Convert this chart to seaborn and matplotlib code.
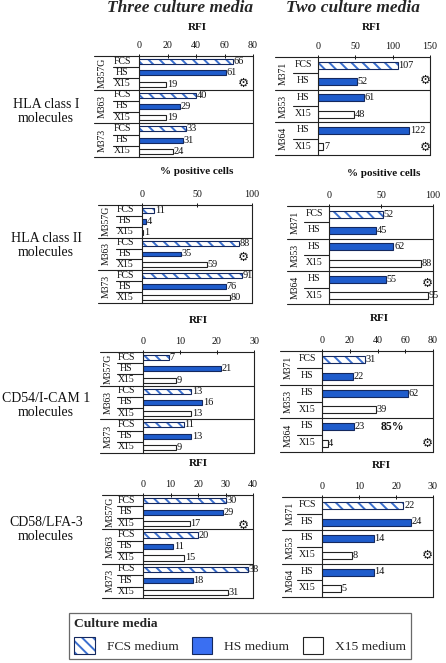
import numpy as np
import pandas as pd
import matplotlib
matplotlib.use("Agg")
import matplotlib.pyplot as plt
import seaborn as sns
from matplotlib.colors import to_rgba
from matplotlib.patches import Patch

sns.set_theme(style="white")
plt.rcParams["font.family"] = ["Liberation Serif", "DejaVu Serif"]
plt.rcParams["hatch.linewidth"] = 1.4

# ---------------- data ----------------
media_order = ["FCS", "HS", "X15"]
lines_three = ["M357G", "M363", "M373"]
media_three = [["FCS", "HS", "X15"], ["FCS", "HS", "X15"], ["FCS", "HS", "X15"]]
lines_two = ["M371", "M353", "M364"]
media_two = [["FCS", "HS"], ["HS", "X15"], ["HS", "X15"]]

hla1_three = [66, 61, 19, 40, 29, 19, 33, 31, 24]
hla1_two = [107, 52, 61, 48, 122, 7]
hla2_three = [11, 4, 1, 88, 35, 59, 91, 76, 80]
hla2_two = [52, 45, 62, 88, 55, 95]
icam_three = [7, 21, 9, 13, 16, 13, 11, 13, 9]
icam_two = [31, 22, 62, 39, 23, 4]
lfa_three = [30, 29, 17, 20, 11, 15, 38, 18, 31]
lfa_two = [22, 24, 14, 8, 14, 5]

row_labels = ["HLA class I\nmolecules", "HLA class II\nmolecules",
              "CD54/I-CAM 1\nmolecules", "CD58/LFA-3\nmolecules"]
col_titles = ["Three culture media", "Two culture media"]
legend_labels = ["FCS medium", "HS medium", "X15 medium"]

W, H = 446, 663
fig = plt.figure(figsize=(W / 100, H / 100), dpi=100)
fig.patch.set_facecolor("white")

BLUE = "#1f5ccc"
NAVY = "#14285e"
HATCH_BLUE = "#3a6fd0"
palette = {"FCS": "white", "HS": BLUE, "X15": "white"}


def fx(px):
    return px / W


def fy(py):
    return 1 - py / H


def make_df(lines, media, values):
    rows, meds, vals = [], [], []
    k = 0
    for ln, ms in zip(lines, media):
        for m in ms:
            rows.append(f"{ln}|{m}")
            meds.append(m)
            vals.append(values[k])
            k += 1
    return pd.DataFrame({"row": rows, "medium": meds, "value": vals})


# panel geometry: x0, x1, top, bottom, box_left (pixels), xmax, ticks, title, title pos
panels = [
    (hla1_three, True, 139, 253, 56, 157, 94, 80, [0, 20, 40, 60, 80], "RFI", (197, 28)),
    (hla1_two, False, 318, 430, 57, 155, 275, 150, [0, 50, 100, 150], "RFI", (371, 28)),
    (hla2_three, True, 142, 252, 205, 303, 98, 100, [0, 50, 100], "% positive cells", (197, 171)),
    (hla2_two, False, 329, 433, 206, 304, 287, 100, [0, 50, 100], "% positive cells", (384, 173)),
    (icam_three, True, 143, 254, 352, 453, 100, 30, [0, 10, 20, 30], "RFI", (198, 320)),
    (icam_two, False, 322, 433, 351, 452, 280, 80, [0, 20, 40, 60, 80], "RFI", (379, 318)),
    (lfa_three, True, 143, 253, 495, 598, 102, 40, [0, 10, 20, 30, 40], "RFI", (198, 463)),
    (lfa_two, False, 322, 433, 497, 597, 282, 30, [0, 10, 20, 30], "RFI", (381, 465)),
]

for vals, three, x0, x1, top, bot, left, xmax, ticks, ttl, tpos in panels:
    lines = lines_three if three else lines_two
    media = media_three if three else media_two
    df = make_df(lines, media, vals)
    n = len(df)
    ax = fig.add_axes([fx(x0), fy(bot), (x1 - x0) / W, (bot - top) / H])
    sns.barplot(data=df, x="value", y="row", hue="medium", hue_order=media_order,
                order=list(df["row"]), palette=palette, dodge=False,
                width=0.45 if three else 0.42, saturation=1, legend=False,
                edgecolor=NAVY, linewidth=0.8, ax=ax)
    # style bars by medium
    for p in ax.patches:
        idx = int(round(p.get_y() + p.get_height() / 2))
        if idx < 0 or idx >= n:
            continue
        m = df["medium"].iloc[idx]
        if m == "FCS":
            p.set_hatch("\\\\\\")
            p.set_edgecolor(NAVY)
            p._hatch_color = to_rgba(HATCH_BLUE)
        elif m == "X15":
            p.set_edgecolor("#222222")
    for c in ax.containers:
        ax.bar_label(c, fmt="%g", padding=0.5, fontsize=7.4, color="#111111")

    ax.set_xlim(0, xmax)
    ax.set_ylim(n - 0.5, -0.5)
    ax.set_xticks(ticks)
    ax.set_xticklabels([str(t) for t in ticks])
    ax.xaxis.tick_top()
    ax.tick_params(axis="x", top=True, bottom=False, length=3, width=0.7,
                   direction="inout", labelsize=7.2, pad=3, colors="#111111")
    ax.set_yticks([])
    ax.set_xlabel("")
    ax.set_ylabel("")
    for s in ["top", "bottom"]:
        ax.spines[s].set_visible(False)
    for s in ["left", "right"]:
        ax.spines[s].set_visible(True)
        ax.spines[s].set_color("#222222")
        ax.spines[s].set_linewidth(0.8)

    tr = ax.get_yaxis_transform()
    span = x1 - x0
    fl = (left - x0) / span
    # top and bottom box lines
    for yv in [-0.5, n - 0.5]:
        ax.plot([fl, 1], [yv, yv], transform=tr, color="#222222", lw=0.8, clip_on=False)
    # separators
    gsize = 3 if three else 2
    inner_start = -26 / span if three else -25 / span
    for g in range(1, len(lines)):
        yv = g * gsize - 0.5
        ax.plot([fl, 1], [yv, yv], transform=tr, color="#222222", lw=0.8, clip_on=False)
    for i in range(n):
        if (i + 1) % gsize != 0:
            yv = i + 0.5
            ax.plot([inner_start, 0], [yv, yv], transform=tr, color="#222222", lw=0.8,
                    clip_on=False)
    # group labels
    for g, ln in enumerate(lines):
        yc = g * gsize + (gsize - 1) / 2
        ax.text(fl + 8 / span, yc, ln, transform=tr, rotation=90, ha="center",
                va="center", fontsize=7, color="#111111")
    # medium labels
    mx = -17 / span if three else -15 / span
    for i, m in enumerate(df["medium"]):
        ax.text(mx, i - 0.05, m, transform=tr, ha="center", va="center",
                fontsize=7, color="#111111")
    # axis title
    fig.text(fx(tpos[0]), fy(tpos[1]), ttl, ha="center", va="center",
             fontsize=8, fontweight="bold", color="#111111")

# column titles
fig.text(fx(180), fy(8), col_titles[0], ha="center", va="center", fontsize=12.5,
         fontweight="bold", fontstyle="italic")
fig.text(fx(353), fy(8), col_titles[1], ha="center", va="center", fontsize=12.5,
         fontweight="bold", fontstyle="italic")

# row labels
for lab, yc in zip(row_labels, [112, 246, 405, 530]):
    fig.text(fx(46), fy(yc), lab, ha="center", va="center", fontsize=10,
             linespacing=1.1, color="#111111")

# sun markers
for (sx, sy) in [(243, 83), (425, 80), (425, 147), (243, 257), (427, 283),
                 (427, 443), (243, 525), (427, 555)]:
    fig.text(fx(sx), fy(sy), "\u2699", ha="center", va="center", fontsize=9,
             family=["DejaVu Sans"], color="#1a1a1a")
fig.text(fx(392), fy(427), "85%", ha="center", va="center", fontsize=8.5,
         fontweight="bold", color="#111111")

# legend
h_fcs = Patch(facecolor="white", edgecolor=NAVY, hatch="\\\\\\", linewidth=0.8)
h_fcs._hatch_color = to_rgba(HATCH_BLUE)
h_hs = Patch(facecolor="#3a6ff2", edgecolor=NAVY, linewidth=0.8)
h_x15 = Patch(facecolor="white", edgecolor="#222222", linewidth=0.8)
leg = fig.legend([h_fcs, h_hs, h_x15], legend_labels, loc="upper left",
                 bbox_to_anchor=(fx(69), fy(613)), ncol=3, title="Culture media",
                 frameon=True, fancybox=False, edgecolor="#444444",
                 handlelength=1.5, handleheight=1.5, handletextpad=0.9,
                 columnspacing=1.0, fontsize=9.7, borderpad=0.4,
                 title_fontproperties={"weight": "bold", "size": 9.7},
                 alignment="left", borderaxespad=0)
leg.get_frame().set_linewidth(0.9)

fig.savefig("out.png", dpi=100, facecolor="white")
